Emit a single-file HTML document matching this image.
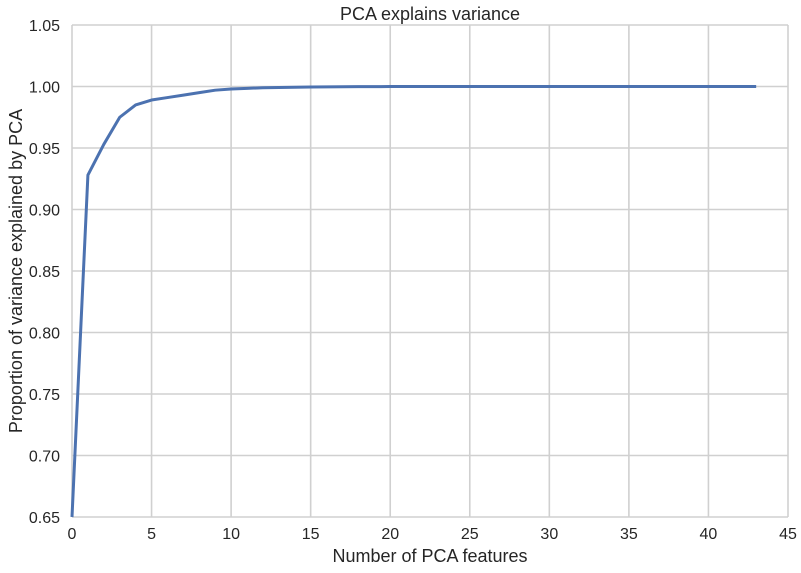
<!DOCTYPE html>
<html><head><meta charset="utf-8"><style>
html,body{margin:0;padding:0;background:#fff;}
svg{display:block;font-family:"Liberation Sans",Arial,sans-serif;}
</style></head><body>
<svg id="chart" width="801" height="573" xmlns="http://www.w3.org/2000/svg">
<g id="grid"></g>
<g id="ticks"></g>
<polyline id="line" fill="none" stroke="#4c72b0" stroke-width="3" stroke-linejoin="round"/>
<text x="430" y="20" text-anchor="middle" font-size="18" fill="#262626">PCA explains variance</text>
<text x="430" y="562" text-anchor="middle" font-size="18" fill="#262626">Number of PCA features</text>
<text transform="translate(22,271) rotate(-90)" text-anchor="middle" font-size="18" fill="#262626">Proportion of variance explained by PCA</text>
</svg>
<script>
const xTicks = [0,5,10,15,20,25,30,35,40,45];
const yTicks = [0.65,0.70,0.75,0.80,0.85,0.90,0.95,1.00,1.05];
const components = [0,1,2,3,4,5,6,7,8,9,10,11,12,13,14,15,16,17,18,19,20,21,22,23,24,25,26,27,28,29,30,31,32,33,34,35,36,37,38,39,40,41,42,43];
const variance = [0.65,0.928,0.953,0.975,0.985,0.989,0.991,0.993,0.995,0.997,0.998,0.9985,0.999,0.9992,0.9994,0.9996,0.9997,0.9998,0.9999,0.9999,1,1,1,1,1,1,1,1,1,1,1,1,1,1,1,1,1,1,1,1,1,1,1,1];

const L=72,R=788,T=25,B=517;
function xs(v){return L+(v-0)/(45-0)*(R-L);}
function ys(v){return B-(v-0.65)/(1.05-0.65)*(B-T);}
const NS="http://www.w3.org/2000/svg";
const grid=document.getElementById('grid'), ticks=document.getElementById('ticks');
xTicks.forEach(t=>{
  const l=document.createElementNS(NS,'line');
  
  
  l.setAttribute('x1',xs(t));l.setAttribute('x2',xs(t));l.setAttribute('y1',T);l.setAttribute('y2',B);
  l.setAttribute('stroke','#d0d0d0');l.setAttribute('stroke-width','1.6');
  grid.appendChild(l);
  const tx=document.createElementNS(NS,'text');
  
  
  tx.setAttribute('x',xs(t));tx.setAttribute('y',B+22);tx.setAttribute('text-anchor','middle');
  tx.setAttribute('font-size','16');tx.setAttribute('fill','#262626');tx.textContent=t;
  ticks.appendChild(tx);
});
yTicks.forEach(t=>{
  const l=document.createElementNS(NS,'line');
  
  
  l.setAttribute('x1',L);l.setAttribute('x2',R);l.setAttribute('y1',ys(t));l.setAttribute('y2',ys(t));
  l.setAttribute('stroke','#d0d0d0');l.setAttribute('stroke-width','1.6');
  grid.appendChild(l);
  const tx=document.createElementNS(NS,'text');
  
  
  tx.setAttribute('x',L-12);tx.setAttribute('y',ys(t)+6);tx.setAttribute('text-anchor','end');
  tx.setAttribute('font-size','16');tx.setAttribute('fill','#262626');tx.textContent=t.toFixed(2);
  ticks.appendChild(tx);
});
document.getElementById('line').setAttribute('points',components.map((c,i)=>xs(c)+','+ys(variance[i])).join(' '));
</script>
</body></html>
